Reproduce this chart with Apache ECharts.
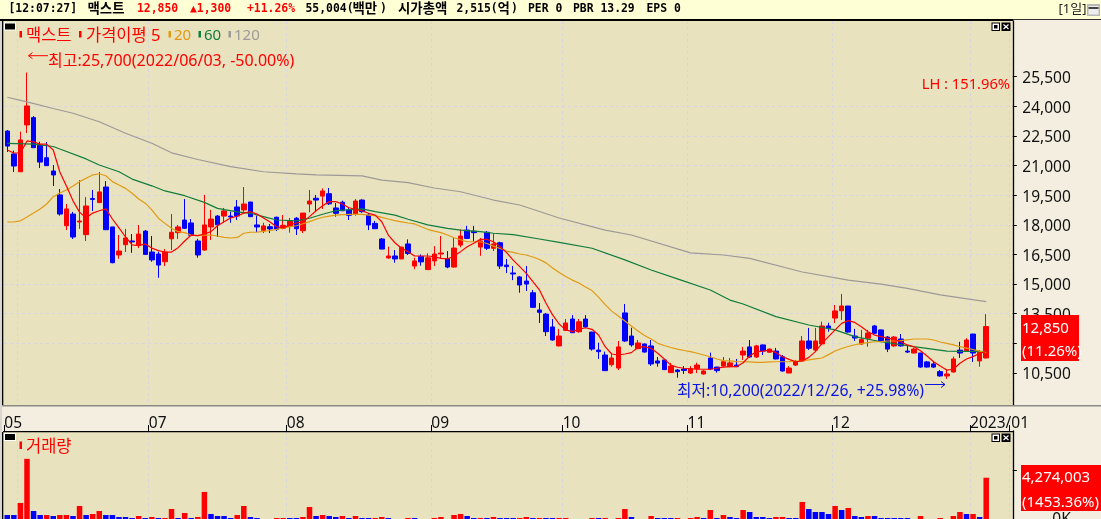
<!DOCTYPE html>
<html><head><meta charset="utf-8">
<style>html,body{margin:0;padding:0;background:#F3EEE0;overflow:hidden}#c{width:1101px;height:519px}</style>
<script src="https://cdn.jsdelivr.net/npm/echarts@6/dist/echarts.min.js"></script>
</head><body><div id="c"></div>
<script>
// [open, close, low, high]
const ohlc = [
[22740,21980,21680,22790],[21580,20970,20670,21750],[20680,22290,20670,22710],[23050,24010,22640,25700],[23420,21900,21880,23500],
[22030,21170,20870,22200],[21390,20990,20970,22190],[20720,20520,19960,21020],[19510,18540,18460,19810],[17950,18800,17730,19050],
[18540,17380,17280,18650],[18140,18190,17790,20260],[17500,18950,17180,19400],[19330,19280,18700,19760],[19120,19660,19100,20670],
[19910,17750,17730,20210],[17890,16080,16050,17890],[16470,16670,16280,17480],[16990,17330,16620,17790],[17180,17130,16580,17530],
[16960,17530,16820,17990],[17680,16500,16470,17730],[16620,16220,16130,17430],[16520,15960,15320,16640],[16130,16610,15910,16770],
[17290,17620,16720,18540],[17600,17890,17280,17990],[18240,17820,17790,19300],[18090,17470,17430,18290],[17180,16470,16330,17290],
[16720,17990,16690,19510],[17890,18290,17230,18750],[18440,18000,17380,18490],[18440,18700,18090,18850],[18440,18390,18100,18660],
[18900,18440,18240,19250],[18750,19050,18650,19910],[19150,18410,18390,19150],[17990,17890,17630,18460],[17720,17940,17580,18100],
[17900,17790,17580,18040],[18380,17770,17680,18410],[17820,17970,17770,18490],[17920,18210,17600,18340],[18330,17800,17480,18390],
[17700,18590,17580,18590],[19050,19200,18630,19760],[19340,19250,18660,19510],[19450,19710,18800,19840],[19570,19060,19000,19860],
[18850,18580,18410,19100],[19140,18710,18690,19220],[18750,18480,18240,18860],[18540,19200,18460,19300],[19250,18660,18610,19290],
[18490,17990,17730,18590],[18070,17800,17790,18190],[17280,16770,16760,17330],[16320,16420,16280,16890],[16420,16270,16080,16720],
[16270,16870,16270,16870],[17030,16550,16470,17260],[15910,16170,15750,16330],[16400,16120,15930,16500],[15730,16330,15710,16550],
[16170,16520,15910,16920],[16520,16570,16280,17430],[16280,15860,15800,16670],[15860,16820,15840,17380],[16970,17430,16860,17770],
[17730,17310,17280,17940],[17670,17600,17140,17940],[16870,17180,16430,17330],[17620,16810,16720,17680],[16810,17030,16670,17570],
[17090,15910,15760,17140],[15960,15880,15560,16270],[15560,15510,15200,15910],[15360,14950,14560,15410],[15150,15000,14650,15910],
[14560,13820,13790,14700],[13690,13570,13030,14040],[13480,12590,12370,13540],[12830,12170,12140,13230],[11870,12370,11840,12730],
[12660,13030,12620,13230],[13230,12540,12520,13430],[12590,13090,12540,13230],[13230,12830,12790,13430],[12570,11710,11630,12590],
[11660,11580,11210,12030],[11410,10620,10600,11580],[10920,11260,10820,11460],[10750,11820,10650,12120],[13540,12120,12070,13990],
[12370,11920,11830,12790],[11730,12020,11710,12170],[11970,11560,11530,11990],[11870,10960,10860,12170],[11110,11000,10820,11310],
[11160,10670,10650,11190],[10520,10850,10500,11010],[10650,10570,10260,10700],[10700,10630,10450,10850],[10500,10700,10450,10850],
[10720,10900,10500,11020],[10450,10600,10420,10650],[11260,10700,10650,11530],[10800,10620,10520,10810],[10850,11070,10820,11310],
[10820,11010,10800,11260],[10900,10820,10800,11210],[11410,11610,11160,11820],[11820,11310,11260,12170],[11310,11870,11260,11920],
[11920,11610,11410,11940],[11550,11710,11540,11740],[11610,11210,11190,11770],[11320,10600,10570,11410],[10500,10750,10490,10850],
[10900,11070,10850,11160],[11110,12120,11070,12370],[12120,11750,11660,12780],[11660,12120,11580,12780],[11970,12880,11940,13100],
[12880,12760,12590,13040],[13280,13640,13030,13940],[13650,13890,13180,14500],[13890,12570,12540,13890],[12370,12270,12120,12730],
[11970,12200,11920,12680],[12260,12520,11830,12680],[12880,12510,12470,12930],[12680,12120,12090,12700],[12320,11710,11560,12370],
[11870,12320,11830,12370],[12220,11870,11840,12470],[11610,11560,11510,11870],[11510,11710,11500,11780],[11510,10800,10770,11520],
[11060,10800,10780,11110],[10960,10800,10750,11060],[10570,10350,10310,10650],[10350,10450,10200,10690],[10550,11210,10520,11330],
[11660,11510,11260,12080],[11610,12170,11590,12260],[12470,11510,11060,12490],[11110,11550,10820,11660],[11260,12850,11230,13480]
];
const ma5 = [21780,21630,21630,22240,22190,22080,22080,21780,20670,19960,19210,18640,18340,18590,18710,18800,18290,17840,17380,16980,16940,17030,16820,16690,16620,16620,16840,17180,17480,17450,17530,17650,17950,18150,18340,18440,18590,18660,18540,18340,18140,17900,17840,17990,18090,18150,18410,18710,18960,19170,19170,19050,18860,18780,18710,18580,18490,18150,17480,17090,16810,16640,16420,16420,16420,16380,16300,16270,16420,16640,16890,17060,17260,17260,17140,16890,16590,16210,15880,15540,15120,14700,14030,13440,12980,12680,12590,12710,12790,12710,12420,11830,11460,11410,11460,11530,11800,11830,11750,11500,11210,10900,10790,10740,10720,10690,10690,10690,10740,10800,10820,10820,11020,11360,11580,11610,11660,11530,11320,11190,11070,11110,11290,11580,12000,12340,12680,13010,13150,13060,12840,12590,12420,12340,12260,12200,12080,11920,11830,11630,11360,11070,10850,10650,10690,10990,11210,11330,11500,11580];
const ma20 = [18140,18140,18200,18390,18590,18800,19050,19420,19610,19760,19960,20180,20350,20520,20580,20480,20180,20010,19840,19590,19300,19090,18750,18330,18070,17820,17650,17600,17480,17450,17480,17480,17430,17360,17330,17360,17570,17620,17630,17660,17710,17770,17840,17890,17950,18050,18160,18280,18380,18440,18490,18510,18520,18530,18520,18490,18460,18370,18290,18210,18150,18090,18040,17900,17770,17680,17600,17480,17340,17240,17140,17140,17140,17050,16920,16800,16670,16600,16520,16470,16370,16240,16070,15810,15580,15380,15200,15050,14850,14670,14340,13960,13630,13380,13130,12880,12630,12400,12220,12000,11890,11790,11710,11640,11580,11500,11410,11320,11210,11130,11110,11080,11070,11060,11040,11040,11060,11070,11070,11080,11100,11110,11160,11210,11260,11430,11610,11740,11840,11930,11990,12040,12080,12090,12120,12120,12140,12180,12220,12220,12220,12170,12070,12000,11920,11830,11760,11690,11610,11530];
// [bar index, value] read at the bends of the smooth long averages
const ma60 = [[0,22120],[4,22080],[7,21960],[8,21830],[12,21330],[14,21020],[17,20680],[19,20310],[22,19970],[24,19710],[27,19470],[30,19130],[32,18830],[35,18650],[37,18580],[39,18410],[41,18240],[44,18200],[46,18330],[48,18530],[50,18710],[54,18800],[56,18660],[59,18490],[61,18280],[64,17990],[67,17820],[69,17730],[72,17650],[74,17570],[77,17500],[81,17280],[84,17110],[89,16810],[94,16220],[98,15710],[102,15260],[107,14700],[110,14190],[112,13990],[117,13350],[122,12930],[126,12680],[129,12340],[133,12080],[138,11830],[143,11610],[149,11580]];
const ma120 = [[0,24450],[3,24220],[7,23880],[10,23640],[14,23210],[18,22630],[22,22120],[25,21640],[29,21300],[34,20940],[39,20680],[44,20570],[47,20520],[54,20470],[57,20260],[61,20130],[65,19860],[69,19670],[74,19250],[78,19000],[84,18340],[91,17730],[95,17480],[104,16580],[109,16470],[113,16300],[121,15610],[128,15200],[133,15000],[137,14780],[142,14450],[149,14110]];
const volumes = [507000,507000,1724000,6185000,913000,507000,507000,406000,507000,507000,406000,1420000,507000,608000,913000,507000,507000,304000,304000,203000,406000,203000,304000,203000,203000,1115000,203000,710000,203000,304000,2839000,608000,406000,406000,203000,507000,1420000,304000,203000,50000,50000,203000,203000,203000,203000,304000,1318000,406000,507000,406000,304000,406000,203000,406000,203000,203000,203000,304000,203000,50000,50000,203000,203000,50000,50000,203000,304000,50000,507000,608000,406000,203000,203000,203000,304000,203000,203000,203000,203000,304000,203000,203000,203000,203000,203000,203000,50000,50000,50000,203000,203000,203000,50000,203000,1115000,304000,50000,50000,406000,203000,203000,203000,203000,50000,203000,304000,203000,1014000,203000,507000,304000,203000,1014000,811000,304000,304000,203000,304000,304000,203000,203000,1825000,1115000,811000,811000,608000,1420000,1014000,1217000,406000,304000,406000,406000,203000,203000,203000,203000,203000,50000,406000,50000,50000,203000,50000,406000,811000,608000,608000,304000,4274003];
const volumeUp = [0,0,1,1,0,0,1,0,1,1,0,1,0,1,1,0,0,0,0,0,1,0,1,0,1,1,0,1,0,1,1,0,0,0,0,1,1,0,0,1,1,1,1,0,0,1,1,0,1,0,0,1,0,1,0,0,1,1,0,1,1,1,0,1,1,1,1,1,1,1,0,0,1,0,1,0,0,0,1,1,0,1,0,0,1,1,1,1,1,1,0,1,1,1,1,0,1,1,1,0,0,0,1,1,1,1,0,1,0,1,0,0,1,0,0,0,0,1,1,0,0,1,0,0,0,0,1,0,1,0,0,1,0,0,0,0,0,0,1,1,1,1,1,1,1,1,0,1,0,1];
const monthIndex = [0,22,43,65,85,104,126,147];
const monthLabels = ['05','07','08','09','10','11','12','2023/01'];
const gridIndex = [2,22,43,65,85,104,126,147];
const priceTicks = [10500,12000,13500,15000,16500,18000,19500,21000,22500,24000,25500];
const volumeTicks = [0,5000000];
const volumeLabels = [0];
const headerTexts = ['[12:07:27]','맥스트','12,850','▲1,300','+11.26%','55,004(','백만',')','시가총액','2,515(','억',')','PER 0','PBR 13.29','EPS 0'];

const RED='#FF0000', BLUE='#0000FF', ORANGE='#E09A12', GREEN='#0F7D3C', GRAY='#9C9A98';
const PLOT='#E9E2BE', PANEL='#F3EEE0', HEAD='#FFFFD6', GRID='#D9D5DC';
const UI="'Noto Sans','Noto Sans CJK KR',sans-serif";
const MONO="'DejaVu Sans Mono','Noto Sans CJK KR',monospace";

const categories = [];
for (let i=0;i<153;i++){const k=monthIndex.indexOf(i);categories.push(k>=0?monthLabels[k]:'b'+i);}

const rect=(x,y,w,h,fill,z)=>({type:'rect',shape:{x,y,width:w,height:h},style:{fill},z:z===undefined?100:z,silent:true});
const txt=(x,y,t,fill,size,font,extra)=>({type:'text',x,y,z:101,silent:true,style:Object.assign({text:t,fill,fontSize:size,fontFamily:font,textVerticalAlign:'middle',textAlign:'left'},extra||{})});
const poly=(pts,stroke,w)=>({type:'polyline',shape:{points:pts},style:{stroke,fill:null,lineWidth:w||1},z:101,silent:true});

const headerX=[8.5,87.5,137,190,247,305.5,352.5,380,398,456.5,497.5,511,528,573,646.5];
const headerFill=['#000','#000',RED,RED,RED,'#000','#000','#000','#000','#000','#000','#000','#000','#000','#000'];
const g=[
 rect(0,0,1101,19,HEAD,-5),
 rect(0,19,1013,2,'#000',99),
 rect(1013,19,88,1,'#333',99),
 rect(3,21,1010,384,PLOT,-5),
 rect(3,432,1010,87,PLOT,-5),
 rect(0,405,1101,1.5,'#8C8A84',99),
 rect(0,21,2,498,'#D8D6CE',99),
 rect(2,21,1.3,384,'#000',99),
 rect(2,432,1.3,87,'#000',99),
 rect(3,431,1010,1.3,'#000',99),
 rect(1087,4,13,12,'#B8B8B8',99),rect(1088.5,6,10,8.5,'#EDEDED',100),rect(1088.5,7,10,2,'#444',100),
 txt(1058.5,9,'[1일]','#222',13,UI),
];
headerTexts.forEach((t,i)=>g.push(txt(headerX[i],9.5,t,headerFill[i],/[가-힣]/.test(t)?13.4:11.4,MONO,{fontWeight:'bold'})));
// pane buttons
[[4,22.5],[4,433]].forEach(([x,y])=>{g.push(rect(x,y,12,8,'#FFF'));g.push(rect(x+1,y+1,10,6,'#000',101));});
[22.5,433.5].forEach(y=>{
 g.push(rect(991.5,y,8.5,8.5,'#000'));g.push(rect(992.5,y+1,6.5,6.5,'#FFF',101));g.push(rect(994,y+2.5,3.5,3.5,'#000',102));
 g.push(rect(1001.5,y,9,8.5,'#000'));
 g.push(poly([[1003.5,y+2],[1008.5,y+6.5]],'#FFF',1.2));g.push(poly([[1008.5,y+2],[1003.5,y+6.5]],'#FFF',1.2));
});
// legend
[[19.5,RED],[79,RED],[168.5,ORANGE],[198.5,GREEN],[228.5,GRAY]].forEach(([x,c])=>g.push(rect(x,31,2.5,6.5,c)));
g.push(txt(26,36,'맥스트',RED,16.5,UI));
g.push(txt(86,36,'가격이평 5',RED,16.5,UI));
g.push(txt(174,36,'20',ORANGE,15,UI));
g.push(txt(204,36,'60',GREEN,15,UI));
g.push(txt(234,36,'120',GRAY,15,UI));
g.push(rect(19.5,441.5,2.5,7.5,RED));
g.push(txt(26,447,'거래량',RED,16.5,UI));
// annotations
g.push(txt(48,61,'최고:25,700(2022/06/03, -50.00%)',RED,16,UI));
g.push(poly([[48,55.7],[28.5,55.7]],RED));g.push(poly([[32.5,52.5],[28.5,55.7],[32.5,58.7]],RED));
g.push(txt(1010,85,'LH : 151.96%',RED,14.7,UI,{textAlign:'right'}));
g.push(txt(677,391,'최저:10,200(2022/12/26, +25.98%)','#0A14E6',15.8,UI));
g.push(poly([[925,384.5],[945,384.5]],'#0A14E6'));g.push(poly([[941,381.5],[945,384.5],[941,387.5]],'#0A14E6'));
// value boxes
g.push(rect(1021,315,58,46,RED));
g.push(txt(1022,329,'12,850','#FFF',15,UI));
g.push(txt(1022,352,'(11.26%)','#FFF',15,UI));
g.push(rect(1021,465,80,46,RED));
g.push(txt(1022,478,'4,274,003','#FFF',15,UI));
g.push(txt(1022,503,'(1453.36%)','#FFF',15,UI));

const L=4, W=1005.2, OFF=3.6;
const axisBase={type:'category',data:categories,boundaryGap:true,axisLabel:{show:false},axisTick:{show:false},axisLine:{show:false}};
const vSplit=(i)=>gridIndex.indexOf(i)>=0;
const dash={color:GRID,type:[3,3],width:1};
const bounds={outerBoundsMode:'none',containLabel:false};

const option={
 animation:false,
 backgroundColor:PANEL,
 graphic:{elements:g},
 grid:[
  Object.assign({left:L,width:W,top:21,height:384},bounds),
  Object.assign({left:L,width:W,top:46.85,height:355.8},bounds),
  Object.assign({left:L,width:W,top:431,height:89},bounds)
 ],
 xAxis:[
  Object.assign({},axisBase,{gridIndex:0,splitLine:{show:true,interval:vSplit,lineStyle:dash}}),
  Object.assign({},axisBase,{gridIndex:1,splitLine:{show:false}}),
  Object.assign({},axisBase,{gridIndex:2,position:'top',
    axisLine:{show:true,onZero:false,lineStyle:{color:'#000',width:1}},
    axisTick:{show:true,length:6,interval:(i)=>monthIndex.indexOf(i)>=0,lineStyle:{color:'#000'}},
    axisLabel:{show:true,interval:(i)=>monthIndex.indexOf(i)>=0,formatter:(v)=>v,align:'left',margin:0,padding:[0,0,0,-3],color:'#111',fontFamily:UI,fontSize:15.5,hideOverlap:false},
    splitLine:{show:true,interval:vSplit,lineStyle:dash}})
 ],
 yAxis:[
  {type:'value',gridIndex:0,position:'right',offset:OFF,min:0,max:1,axisLine:{show:true,onZero:false,lineStyle:{color:'#000',width:1.3}},axisTick:{show:false},axisLabel:{show:false},splitLine:{show:false}},
  {type:'value',gridIndex:1,position:'right',offset:OFF,min:9000,max:27000,interval:1500,scale:true,
    axisLine:{show:false,onZero:false},
    axisTick:{show:true,length:4,customValues:priceTicks,lineStyle:{color:'#000'}},
    axisLabel:{show:true,customValues:priceTicks,align:'right',margin:58,formatter:(v)=>'{p|'+v.toLocaleString('en-US')+'}',
      rich:{p:{padding:[4,0,0,0],color:'#111',fontFamily:UI,fontSize:15.5}}},
    splitLine:{show:true,showMinLine:false,showMaxLine:false,lineStyle:dash}},
  {type:'value',gridIndex:2,position:'right',offset:OFF,min:0,max:9000000,interval:5000000,
    axisLine:{show:true,onZero:false,lineStyle:{color:'#000',width:1.3}},
    axisTick:{show:true,length:4,customValues:volumeTicks,lineStyle:{color:'#000'}},
    axisLabel:{show:true,customValues:volumeLabels,align:'right',margin:58,color:'#111',fontFamily:UI,fontSize:15.5,formatter:(v)=>(v/1000).toLocaleString('en-US')+'K'},
    splitLine:{show:true,showMinLine:false,showMaxLine:false,lineStyle:dash}}
 ],
 series:[
  {type:'candlestick',name:'맥스트',xAxisIndex:1,yAxisIndex:1,barWidth:5,clip:false,data:ohlc,
   itemStyle:{color:RED,color0:BLUE,borderColor:RED,borderColor0:BLUE,borderWidth:1}},
  {type:'line',name:'120',xAxisIndex:1,yAxisIndex:1,data:ma120,showSymbol:false,symbol:'none',lineStyle:{color:GRAY,width:1.2},z:3},
  {type:'line',name:'60',xAxisIndex:1,yAxisIndex:1,data:ma60,showSymbol:false,symbol:'none',lineStyle:{color:GREEN,width:1.2},z:3},
  {type:'line',name:'20',xAxisIndex:1,yAxisIndex:1,data:ma20,showSymbol:false,symbol:'none',lineStyle:{color:ORANGE,width:1.2},z:3},
  {type:'line',name:'5',xAxisIndex:1,yAxisIndex:1,data:ma5,showSymbol:false,symbol:'none',lineStyle:{color:RED,width:1.2},z:4},
  {type:'bar',name:'거래량',xAxisIndex:2,yAxisIndex:2,barWidth:5.5,
   data:volumes.map((v,i)=>({value:v,itemStyle:{color:volumeUp[i]?RED:BLUE}}))}
 ]
};
const chart=echarts.init(document.getElementById('c'),null,{renderer:'canvas',width:1101,height:519});
chart.setOption(option);
</script></body></html>
